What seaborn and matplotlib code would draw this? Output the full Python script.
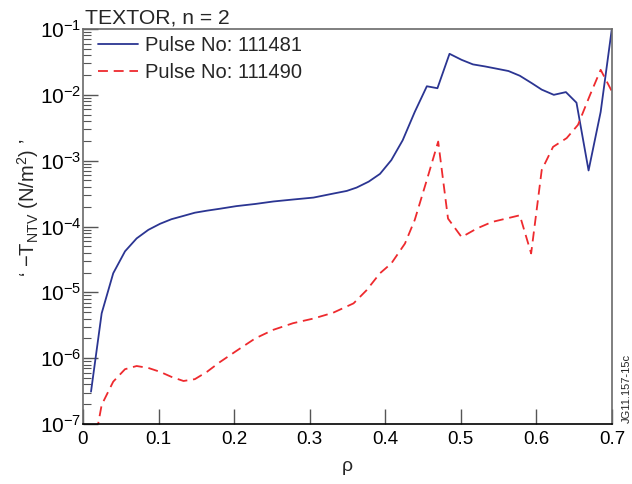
import numpy as np
import pandas as pd
import matplotlib
matplotlib.use("Agg")
import matplotlib.pyplot as plt
import matplotlib.ticker as mticker
import seaborn as sns

# ---- data ----
rho_111481 = [0.0106, 0.0247, 0.040, 0.0556, 0.071, 0.0865, 0.102, 0.117, 0.133, 0.148,
              0.164, 0.181, 0.203, 0.228, 0.252, 0.278, 0.305, 0.331, 0.349, 0.362,
              0.378, 0.393, 0.408, 0.423, 0.439, 0.455, 0.469, 0.485, 0.501, 0.516,
              0.532, 0.547, 0.563, 0.578, 0.594, 0.607, 0.623, 0.639, 0.653, 0.669,
              0.685, 0.700]
tntv_111481 = [3.1e-7, 4.8e-6, 1.95e-5, 4.2e-5, 6.6e-5, 8.9e-5, 1.1e-4, 1.29e-4, 1.45e-4, 1.62e-4,
               1.74e-4, 1.86e-4, 2.04e-4, 2.2e-4, 2.4e-4, 2.57e-4, 2.75e-4, 3.16e-4, 3.47e-4, 3.9e-4,
               4.8e-4, 6.3e-4, 1.02e-3, 2.04e-3, 5.5e-3, 1.35e-2, 1.26e-2, 4.2e-2, 3.4e-2, 2.9e-2,
               2.7e-2, 2.5e-2, 2.3e-2, 1.95e-2, 1.5e-2, 1.2e-2, 1.0e-2, 1.1e-2, 7.6e-3, 7.1e-4,
               5.5e-3, 1.05e-1]

rho_111490 = [0.0106, 0.0247, 0.040, 0.0556, 0.071, 0.0865, 0.102, 0.117, 0.133, 0.148,
              0.164, 0.181, 0.203, 0.228, 0.252, 0.278, 0.305, 0.331, 0.358, 0.375,
              0.393, 0.408, 0.426, 0.439, 0.455, 0.470, 0.483, 0.501, 0.521, 0.541,
              0.560, 0.578, 0.593, 0.607, 0.622, 0.640, 0.655, 0.671, 0.685, 0.700]
tntv_111490 = [2.6e-8, 1.95e-7, 4.4e-7, 6.8e-7, 7.6e-7, 7.1e-7, 6.2e-7, 5.2e-7, 4.5e-7, 4.8e-7,
               6.2e-7, 8.7e-7, 1.29e-6, 2.0e-6, 2.7e-6, 3.4e-6, 4.0e-6, 4.9e-6, 6.8e-6, 1.07e-5,
               1.95e-5, 2.75e-5, 5.5e-5, 1.26e-4, 5.1e-4, 1.95e-3, 1.32e-4, 6.9e-5, 9.3e-5, 1.17e-4,
               1.32e-4, 1.48e-4, 3.9e-5, 7.2e-4, 1.62e-3, 2.2e-3, 3.5e-3, 1.0e-2, 2.4e-2, 1.12e-2]

labels = ["Pulse No: 111481", "Pulse No: 111490"]
xticks = [0, 0.1, 0.2, 0.3, 0.4, 0.5, 0.6, 0.7]
xticklabels = ["0", "0.1", "0.2", "0.3", "0.4", "0.5", "0.6", "0.7"]

# ---- style ----
sns.set_style("ticks")
plt.rcParams["font.family"] = ["Liberation Sans", "DejaVu Sans"]
plt.rcParams["mathtext.fontset"] = "custom"
plt.rcParams["mathtext.rm"] = "Liberation Sans"
plt.rcParams["mathtext.it"] = "Liberation Sans:italic"
plt.rcParams["mathtext.bf"] = "Liberation Sans:bold"

fig = plt.figure(figsize=(6.32, 4.84), dpi=100)
ax = fig.add_axes([83 / 632, 1 - 424 / 484, 529 / 632, 395 / 484])

blue = "#2b3592"
red = "#ee2a2e"

df1 = pd.DataFrame({"rho": rho_111481, "t": tntv_111481})
df2 = pd.DataFrame({"rho": rho_111490, "t": tntv_111490})
sns.lineplot(data=df1, x="rho", y="t", ax=ax, color=blue, lw=1.3, label=labels[0])
sns.lineplot(data=df2, x="rho", y="t", ax=ax, color=red, lw=1.3, label=labels[1])
ax.lines[1].set_linestyle((0, (5.5, 3.2)))

ax.set_yscale("log")
ax.set_xlim(0, 0.7)
ax.set_ylim(1e-7, 1e-1)
ax.set_xticks(xticks)
ax.set_xticklabels(xticklabels)
ax.yaxis.set_major_locator(mticker.LogLocator(base=10, numticks=10))
ax.yaxis.set_minor_locator(mticker.LogLocator(base=10, subs=np.arange(2, 10), numticks=10))
ax.yaxis.set_minor_formatter(mticker.NullFormatter())

ax.tick_params(axis="both", which="both", direction="in", colors="black")
ax.tick_params(axis="x", which="major", length=11, width=1.0, top=False, pad=5,
               color="#555555", labelsize=13.5)
ax.tick_params(axis="y", which="major", length=11, width=1.0, right=False, pad=1,
               color="#555555", labelsize=15)
ax.tick_params(axis="y", which="minor", length=6, width=0.8, right=False, color="#555555")
ax.tick_params(axis="x", which="minor", bottom=False, top=False)

for s in ["top", "right", "left"]:
    ax.spines[s].set_visible(True)
    ax.spines[s].set_color("#6a6a6a")
    ax.spines[s].set_linewidth(1.2)
ax.spines["bottom"].set_color("black")
ax.spines["bottom"].set_linewidth(1.2)

ax.set_xlabel("ρ", fontsize=14)
ax.xaxis.set_label_coords(0.5, -0.085)
ax.set_ylabel("‘ $-$T$_{\\mathrm{NTV}}$ (N/m$^2$) ’", fontsize=14.5)
ax.yaxis.set_label_coords(-0.08, 0.547)

leg = ax.legend(loc="upper left", frameon=False, fontsize=14.5, handlelength=2.0,
                handletextpad=0.35, borderaxespad=0.0, borderpad=0.0, labelspacing=0.4,
                bbox_to_anchor=(15 / 529, 1 - 7 / 395))

fig.text(85 / 632, 1 - 23 / 484, "TEXTOR, n = 2", fontsize=15.2, ha="left", va="baseline")
fig.text(627 / 632, 1 - 423 / 484, "JG11.157-15c", fontsize=8, rotation=90,
         ha="center", va="bottom")

fig.savefig("out.png", dpi=100)
